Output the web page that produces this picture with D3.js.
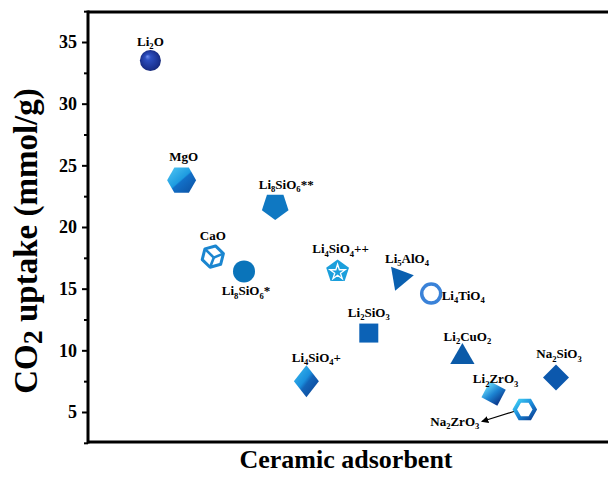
<!DOCTYPE html>
<html><head><meta charset="utf-8">
<script src="https://cdn.jsdelivr.net/npm/d3@7"></script>
<style>html,body{margin:0;padding:0;background:#fff;} svg{display:block;} text{font-family:"Liberation Serif","Times New Roman",serif;}</style>
</head><body>
<svg id="c" width="608" height="477"></svg>
<script>
// ---- data ----
const categories = ["Li_2O","MgO","CaO","Li_8SiO_6*","Li_8SiO_6**","Li_4SiO_4+","Li_4SiO_4++","Li_2SiO_3","Li_5AlO_4","Li_4TiO_4","Li_2CuO_2","Li_2ZrO_3","Na_2ZrO_3","Na_2SiO_3"];
const uptake = [33.5, 23.8, 17.6, 16.4, 21.7, 7.5, 16.4, 11.4, 15.9, 14.6, 9.7, 6.5, 5.2, 7.8];
const yTicks = [5, 10, 15, 20, 25, 30, 35];
const yMinorTicks = [2.5, 7.5, 12.5, 17.5, 22.5, 27.5, 32.5, 37.5];
// marker styles and label placement (style only)
const markers = ["ball","hexGrad","cube","circle","pentDown","diamondGrad","pentStar","square","triRight","ring","triUp","tiltSquare","hexRing","diamond"];
const labelPos = [[0,-19],[2,-23],[0,-21],[2,20],[11,-21],[10,-23],[3,-22],[0,-20],[7,-19],[32,2],[5,-17],[2,-14],[-70,12],[3,-23]];
const FONT = "Liberation Serif, Times New Roman, serif";

const svg = d3.select("#c");
const W = 608, H = 477;
const m = {l: 88, t: 12, b: 442};
const x = d3.scaleLinear().domain([-1, 15.667]).range([m.l, W]);
const y = d3.scaleLinear().domain([2.567, 37.433]).range([m.b, m.t]);

const defs = svg.append("defs");
function lin(id, stops, x1, y1, x2, y2) {
  const g = defs.append("linearGradient").attr("id", id)
    .attr("x1", x1).attr("y1", y1).attr("x2", x2).attr("y2", y2);
  stops.forEach(s => g.append("stop").attr("offset", s[0]).attr("stop-color", s[1]));
}
const rg = defs.append("radialGradient").attr("id","gBall").attr("cx","0.5").attr("cy","0.5").attr("r","0.55").attr("fx","0.35").attr("fy","0.3");
[[0,"#6f8ff0"],[0.25,"#2d4fc0"],[0.8,"#1a318f"],[1,"#14256e"]].forEach(s=>rg.append("stop").attr("offset",s[0]).attr("stop-color",s[1]));
lin("gHex", [[0,"#52c8f4"],[0.48,"#1d9be0"],[0.52,"#1270c8"],[1,"#0c4fa0"]], "0","0","1","1");
lin("gDia", [[0,"#3ec0f2"],[0.45,"#1a8fdc"],[0.55,"#1364b8"],[1,"#0b3f8f"]], "0","0","1","1");
lin("gTilt", [[0,"#5fd0f6"],[0.5,"#1d84d2"],[1,"#0c3f92"]], "0","0.3","1","0.7");
lin("gRing", [[0,"#3fd0f6"],[0.5,"#1a88d8"],[1,"#0b3f92"]], "0","0","1","1");

function poly(n, r, rot) {
  const pts = d3.range(n).map(i => {
    const a = rot + i * 2 * Math.PI / n;
    return [r * Math.cos(a), r * Math.sin(a)];
  });
  return "M" + pts.map(p => p[0].toFixed(2) + "," + p[1].toFixed(2)).join("L") + "Z";
}

function drawMarker(g, type) {
  switch (type) {
    case "ball":
      g.append("circle").attr("r", 10.5).attr("fill", "url(#gBall)");
      break;
    case "hexGrad":
      g.append("path").attr("d", poly(6, 14.5, 0)).attr("fill", "url(#gHex)");
      break;
    case "cube": {
      const c = "#1b86d0";
      g.append("path").attr("d", poly(6, 11, -Math.PI/2 + 0.25)).attr("fill","none").attr("stroke", c).attr("stroke-width", 3).attr("stroke-linejoin","round");
      const r = 11;
      [ -Math.PI/2 + 0.25 + Math.PI/3, -Math.PI/2 + 0.25 + Math.PI, -Math.PI/2 + 0.25 + 5*Math.PI/3 ].forEach(a => {
        g.append("line").attr("x1", 1).attr("y1", 1).attr("x2", r*Math.cos(a)).attr("y2", r*Math.sin(a)).attr("stroke", c).attr("stroke-width", 2.6);
      });
      break;
    }
    case "circle":
      g.append("circle").attr("r", 11).attr("fill", "#0a74ba");
      break;
    case "pentDown":
      g.append("path").attr("d", poly(5, 14, Math.PI/2)).attr("fill", "#0f78c2");
      break;
    case "diamondGrad":
      g.append("path").attr("d", "M0,-16L12.5,0L0,16L-12.5,0Z").attr("fill", "url(#gDia)");
      break;
    case "pentStar": {
      g.append("path").attr("d", poly(5, 12, -Math.PI/2)).attr("fill", "#1b9fdc");
      const sp = d3.range(10).map(i => { const a = -Math.PI/2 + i*Math.PI/5; const rr = i%2 ? 3 : 8; return [rr*Math.cos(a), rr*Math.sin(a)+0.8]; });
      g.append("path").attr("d", "M" + sp.map(p=>p.join(",")).join("L") + "Z").attr("fill","none").attr("stroke","#fff").attr("stroke-width",1.3);
      break;
    }
    case "square":
      g.append("rect").attr("x", -9.5).attr("y", -9.5).attr("width", 19).attr("height", 19).attr("fill", "#0c62b6");
      break;
    case "triRight":
      g.append("path").attr("d", poly(3, 14, -0.17)).attr("fill", "#0a60b0");
      break;
    case "ring":
      g.append("circle").attr("r", 9.5).attr("fill", "none").attr("stroke", "#3a82d8").attr("stroke-width", 3.5);
      break;
    case "triUp":
      g.append("path").attr("d", poly(3, 14, -Math.PI/2)).attr("transform","translate(0,3)").attr("fill", "#0b5aa8");
      break;
    case "tiltSquare":
      g.append("rect").attr("x", -9).attr("y", -9).attr("width", 18).attr("height", 18).attr("transform","rotate(28)").attr("fill", "url(#gTilt)");
      break;
    case "hexRing":
      g.append("path").attr("d", poly(6, 10, 0)).attr("fill", "none").attr("stroke", "url(#gRing)").attr("stroke-width", 4);
      break;
    case "diamond":
      g.append("path").attr("d", "M0,-13L13,0L0,13L-13,0Z").attr("fill", "#0c58ad");
      break;
  }
}

function chemLabel(sel, str, fs) {
  const parts = str.split(/(_\d+)/).filter(s => s.length);
  let shift = 0;
  parts.forEach(p => {
    if (p[0] === "_") {
      sel.append("tspan").text(p.slice(1)).attr("font-size", fs * 0.66).attr("dy", fs*0.25 - shift);
      shift = fs*0.25;
    } else {
      sel.append("tspan").text(p).attr("font-size", fs).attr("dy", -shift);
      shift = 0;
    }
  });
}

// ---- axes ----
const axL = svg.append("g").attr("transform", `translate(${m.l},0)`)
  .call(d3.axisLeft(y).tickValues(yTicks).tickSize(6).tickPadding(5).tickFormat(d3.format("d")));
axL.attr("font-family", FONT);
axL.select(".domain").remove();
axL.selectAll(".tick line").attr("stroke", "#000").attr("stroke-width", 2);
axL.selectAll(".tick text").attr("font-family", FONT).attr("font-weight", "bold").attr("font-size", 18).attr("fill", "#000");
const axM = svg.append("g").attr("transform", `translate(${m.l},0)`)
  .call(d3.axisLeft(y).tickValues(yMinorTicks).tickSize(4).tickFormat(""));
axM.select(".domain").remove();
axM.selectAll(".tick text").remove();
axM.selectAll(".tick line").attr("stroke", "#000").attr("stroke-width", 2);

// frame lines
svg.append("line").attr("x1", m.l).attr("x2", m.l).attr("y1", m.t - 1.5).attr("y2", m.b + 1.5).attr("stroke", "#000").attr("stroke-width", 3);
svg.append("line").attr("x1", m.l).attr("x2", W).attr("y1", m.t).attr("y2", m.t).attr("stroke", "#000").attr("stroke-width", 3);
svg.append("line").attr("x1", m.l).attr("x2", W).attr("y1", m.b).attr("y2", m.b).attr("stroke", "#000").attr("stroke-width", 3);

// axis titles
const yt = svg.append("text").attr("transform", `translate(37,${(m.t+m.b)/2 + 14}) rotate(-90)`)
  .attr("text-anchor", "middle").attr("font-family", FONT).attr("font-weight", "bold").attr("font-size", 33);
yt.append("tspan").text("CO");
yt.append("tspan").text("2").attr("font-size", 28).attr("dy", 5);
yt.append("tspan").text(" uptake (mmol/g)").attr("dy", -5);
svg.append("text").attr("x", 346).attr("y", 468).attr("text-anchor", "middle")
  .attr("font-family", FONT).attr("font-weight", "bold").attr("font-size", 26).text("Ceramic adsorbent");

// ---- points ----
const pts = svg.append("g");
categories.forEach((c, i) => {
  const g = pts.append("g").attr("transform", `translate(${x(i+1)},${y(uptake[i])})`);
  drawMarker(g, markers[i]);
});

// ---- labels ----
const lab = svg.append("g").attr("fill", "#000");
categories.forEach((c, i) => {
  const t = lab.append("text")
    .attr("x", x(i+1) + labelPos[i][0]).attr("y", y(uptake[i]) + labelPos[i][1] + 4)
    .attr("text-anchor", "middle").attr("font-family", FONT).attr("font-weight", "bold").attr("font-size", 13);
  chemLabel(t, c, 13);
});

// arrow for Na2ZrO3
defs.append("marker").attr("id", "arr").attr("viewBox", "0 0 10 10").attr("refX", 9).attr("refY", 5)
  .attr("markerWidth", 6).attr("markerHeight", 6).attr("orient", "auto")
  .append("path").attr("d", "M0,0L10,5L0,10Z").attr("fill", "#000");
const iNa = 12;
svg.append("line").attr("x1", x(iNa+1) - 11).attr("y1", y(uptake[iNa]) + 2)
  .attr("x2", x(iNa+1) - 43).attr("y2", y(uptake[iNa]) + 12)
  .attr("stroke", "#000").attr("stroke-width", 1.2).attr("marker-end", "url(#arr)");
</script>
</body></html>
